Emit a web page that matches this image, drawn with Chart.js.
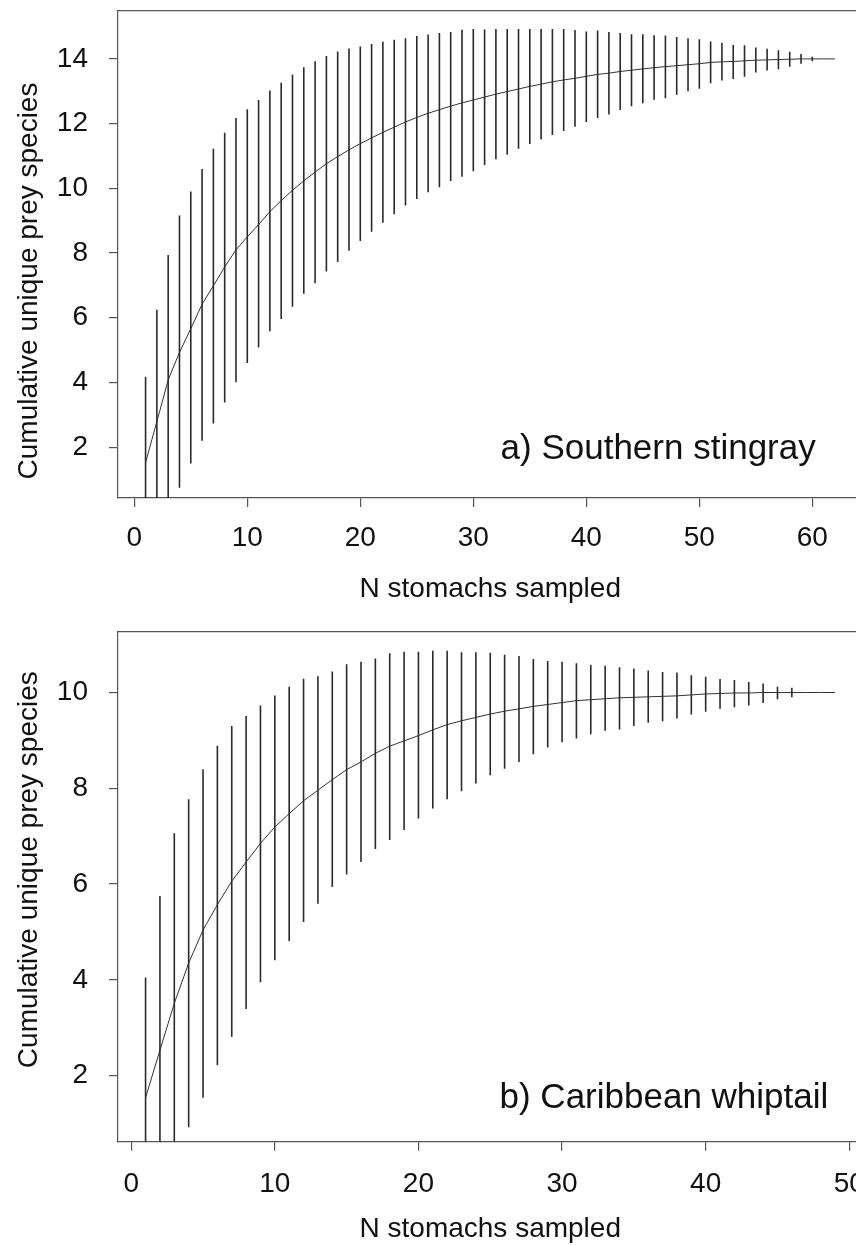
<!DOCTYPE html>
<html>
<head>
<meta charset="utf-8">
<title>Cumulative prey curves</title>
<script src="https://cdn.jsdelivr.net/npm/chart.js"></script>
<style>
  html, body { margin: 0; padding: 0; background: #fff; overflow: hidden; }
  canvas { display: block; }
</style>
</head>
<body>
<canvas id="chartA" width="880" height="615"></canvas>
<canvas id="chartB" width="880" height="630"></canvas>
<script>
// 数据：a) Southern stingray
var stomachsA = [1,2,3,4,5,6,7,8,9,10,11,12,13,14,15,16,17,18,19,20,21,22,23,24,25,26,27,28,29,30,31,32,33,34,35,36,37,38,39,40,41,42,43,44,45,46,47,48,49,50,51,52,53,54,55,56,57,58,59,60,61,62];
var meanA = [1.53,2.79,4.08,4.93,5.66,6.42,6.99,7.57,8.10,8.50,8.88,9.28,9.62,9.94,10.23,10.50,10.76,10.98,11.19,11.38,11.56,11.73,11.89,12.05,12.19,12.32,12.43,12.54,12.64,12.73,12.82,12.91,12.99,13.07,13.15,13.22,13.29,13.35,13.40,13.46,13.52,13.56,13.61,13.65,13.69,13.73,13.76,13.79,13.82,13.85,13.89,13.91,13.92,13.94,13.96,13.97,13.98,13.99,14.00,14.00,14.00,14.00];
var upperA = [4.18,6.25,7.94,9.16,9.90,10.60,11.22,11.72,12.17,12.44,12.73,13.02,13.26,13.52,13.74,13.93,14.09,14.23,14.32,14.38,14.46,14.53,14.59,14.64,14.71,14.75,14.80,14.83,14.90,14.92,14.91,14.92,14.92,14.92,14.92,14.92,14.92,14.92,14.89,14.85,14.88,14.83,14.80,14.76,14.76,14.73,14.72,14.68,14.64,14.61,14.54,14.50,14.43,14.42,14.35,14.31,14.27,14.22,14.15,14.07,14.00,14.00];
var lowerA = [-1.12,-0.67,0.22,0.75,1.50,2.20,2.73,3.38,4.01,4.60,5.09,5.58,5.96,6.34,6.74,7.07,7.43,7.72,8.07,8.37,8.66,8.94,9.20,9.47,9.67,9.88,10.03,10.23,10.36,10.53,10.72,10.90,11.04,11.22,11.37,11.51,11.65,11.77,11.90,12.05,12.17,12.28,12.42,12.54,12.63,12.74,12.78,12.89,13.00,13.08,13.25,13.33,13.38,13.45,13.58,13.64,13.68,13.76,13.85,13.93,14.00,14.00];
var xTicksA = [0, 10, 20, 30, 40, 50, 60];
var yTicksA = [2, 4, 6, 8, 10, 12, 14];

// 数据：b) Caribbean whiptail
var stomachsB = [1,2,3,4,5,6,7,8,9,10,11,12,13,14,15,16,17,18,19,20,21,22,23,24,25,26,27,28,29,30,31,32,33,34,35,36,37,38,39,40,41,42,43,44,45,46,47,48,49];
var meanB = [1.54,2.53,3.51,4.35,5.04,5.57,6.06,6.46,6.85,7.19,7.47,7.74,7.96,8.18,8.39,8.55,8.73,8.88,8.99,9.10,9.22,9.33,9.41,9.48,9.55,9.61,9.66,9.71,9.75,9.79,9.83,9.85,9.87,9.89,9.90,9.91,9.92,9.93,9.95,9.97,9.98,9.99,9.99,10.00,10.00,10.00,10.00,10.00,10.00];
var upperB = [4.05,5.75,7.06,7.77,8.40,8.89,9.30,9.51,9.73,9.94,10.12,10.29,10.34,10.44,10.59,10.64,10.71,10.82,10.85,10.85,10.87,10.87,10.84,10.84,10.83,10.79,10.76,10.70,10.66,10.64,10.61,10.58,10.56,10.53,10.50,10.46,10.43,10.42,10.36,10.33,10.28,10.26,10.22,10.19,10.12,10.10,10.00,10.00,10.00];
var lowerB = [-0.97,-0.69,-0.04,0.92,1.54,2.22,2.81,3.39,3.95,4.41,4.81,5.21,5.59,5.94,6.20,6.46,6.73,6.92,7.13,7.37,7.58,7.77,7.94,8.10,8.27,8.41,8.55,8.71,8.85,8.96,9.04,9.13,9.20,9.23,9.30,9.37,9.40,9.46,9.54,9.60,9.66,9.69,9.73,9.78,9.86,9.90,10.00,10.00,10.00];
var xTicksB = [0, 10, 20, 30, 40, 50];
var yTicksB = [2, 4, 6, 8, 10];

var FONT = '"Liberation Sans", Arial, Helvetica, sans-serif';
var INK = '#111';
var AXIS = '#555';
Chart.defaults.font.family = FONT;
Chart.defaults.color = INK;

// 注释文字和y轴标题
var panelText = {
    id: 'panelText',
    afterDraw: function(chart, args, opts) {
        var ctx = chart.ctx;
        var xs = chart.scales.x, ys = chart.scales.y;
        ctx.save();
        ctx.fillStyle = INK;
        ctx.font = '35px ' + FONT;
        ctx.textAlign = 'right';
        ctx.textBaseline = 'alphabetic';
        ctx.fillText(opts.note, xs.getPixelForValue(opts.noteX), ys.getPixelForValue(opts.noteY));
        ctx.translate(opts.yTitleX, opts.yTitleY);
        ctx.rotate(-Math.PI / 2);
        ctx.font = '28px ' + FONT;
        ctx.textAlign = 'center';
        ctx.fillText(opts.yTitle, 0, 0);
        ctx.restore();
    }
};

function tickList(values) {
    return function(scale) {
        scale.ticks = values.map(function(v) { return { value: v }; });
    };
}

// 固定坐标轴尺寸，去掉标签带来的额外边距
function fixSize(prop, size) {
    return function(s) {
        s[prop] = size;
        s.paddingTop = 0;
        s.paddingBottom = 0;
        s.paddingLeft = 0;
        s.paddingRight = 0;
    };
}

function makePanel(id, p) {
    var bars = p.n.map(function(n, i) { return { x: n, y: [p.lower[i], p.upper[i]] }; });
    var curve = p.n.map(function(n, i) { return { x: n, y: p.mean[i] }; });
    var ctx = document.getElementById(id).getContext('2d');
    return new Chart(ctx, {
        type: 'bar',
        data: {
            datasets: [{
                type: 'bar',
                data: bars,
                backgroundColor: '#2a2a2a',
                borderWidth: 0,
                barThickness: 1.6,
                inflateAmount: 0,
                clip: 0
            }, {
                type: 'line',
                data: curve,
                borderColor: '#333',
                borderWidth: 1,
                pointRadius: 0,
                tension: 0,
                fill: false,
                clip: 0
            }]
        },
        options: {
            responsive: false,
            animation: false,
            events: [],
            layout: { padding: { top: p.padTop, right: 17.5, left: 0, bottom: 0 } },
            plugins: {
                legend: { display: false },
                tooltip: { enabled: false },
                panelText: {
                    note: p.note, noteX: p.noteX, noteY: p.noteY,
                    yTitle: 'Cumulative unique prey species',
                    yTitleX: 36.5, yTitleY: p.yTitleY
                }
            },
            scales: {
                x: {
                    type: 'linear',
                    min: p.xMin, max: p.xMax,
                    offset: false,
                    afterBuildTicks: tickList(p.xTicks),
                    afterFit: fixSize('height', p.xHeight),
                    grid: { drawOnChartArea: false, tickLength: 9, color: AXIS, lineWidth: 1.2, offset: false },
                    border: { color: AXIS, width: 1.2 },
                    ticks: { padding: p.xTickPad, maxRotation: 0, autoSkip: false, color: INK, font: { size: 28 } },
                    title: {
                        display: true, text: 'N stomachs sampled', color: INK,
                        padding: { top: 0, bottom: p.xTitlePad },
                        font: { size: 28, lineHeight: 1.1 }
                    }
                },
                xTop: {
                    type: 'linear', position: 'top',
                    min: p.xMin, max: p.xMax,
                    afterFit: fixSize('height', 0),
                    ticks: { display: false },
                    grid: { drawOnChartArea: false, drawTicks: false },
                    border: { color: AXIS, width: 1.2 }
                },
                y: {
                    min: p.yMin, max: p.yMax,
                    afterBuildTicks: tickList(p.yTicks),
                    afterFit: fixSize('width', 118),
                    grid: { drawOnChartArea: false, tickLength: 9, color: AXIS, lineWidth: 1.2 },
                    border: { color: AXIS, width: 1.2 },
                    ticks: { padding: 21, color: INK, font: { size: 28 } }
                }
            }
        },
        plugins: [panelText]
    });
}

makePanel('chartA', {
    n: stomachsA, mean: meanA, upper: upperA, lower: lowerA,
    xTicks: xTicksA, yTicks: yTicksA,
    xMin: -1.44, xMax: 64.44, yMin: 0.43, yMax: 15.48,
    padTop: 11, xHeight: 117, xTickPad: 14, xTitlePad: 10.5,
    note: 'a) Southern stingray', noteX: 60.3, noteY: 1.63,
    yTitleY: 281
});

makePanel('chartB', {
    n: stomachsB, mean: meanB, upper: upperB, lower: lowerB,
    xTicks: xTicksB, yTicks: yTicksB,
    xMin: -0.92, xMax: 50.92, yMin: 0.62, yMax: 11.27,
    padTop: 16.7, xHeight: 103.3, xTickPad: 17, xTitlePad: 0.5,
    note: 'b) Caribbean whiptail', noteX: 48.54, noteY: 1.33,
    yTitleY: 254.7
});
</script>
</body>
</html>
